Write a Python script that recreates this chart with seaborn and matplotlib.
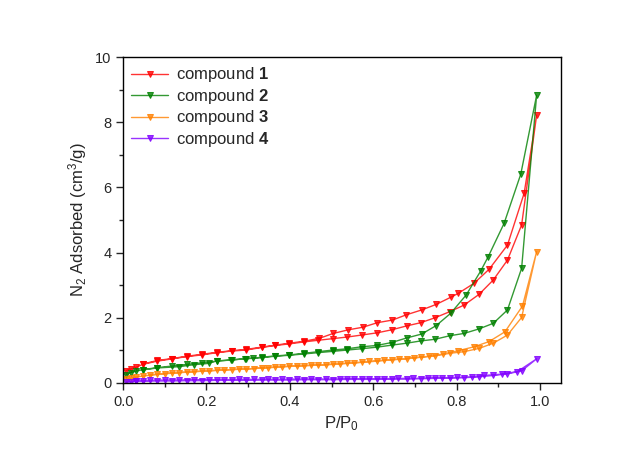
import numpy as np
import pandas as pd
import matplotlib
matplotlib.use("Agg")
import matplotlib.pyplot as plt
from matplotlib.ticker import MultipleLocator
import seaborn as sns

# relative pressure grid used for the adsorption branches
p_ads = [0.007, 0.018, 0.031, 0.047, 0.082, 0.118, 0.153, 0.189, 0.225, 0.261,
         0.295, 0.333, 0.365, 0.399, 0.434, 0.468, 0.503, 0.538, 0.572, 0.610,
         0.644, 0.680, 0.714, 0.748, 0.784, 0.818, 0.854, 0.888, 0.922, 0.956, 0.992]

# compound 1
ads1 = [0.38, 0.43, 0.48, 0.57, 0.67, 0.74, 0.81, 0.86, 0.93, 0.98,
        1.01, 1.09, 1.15, 1.20, 1.26, 1.31, 1.36, 1.41, 1.47, 1.54,
        1.63, 1.75, 1.85, 2.00, 2.19, 2.39, 2.72, 3.16, 3.77, 4.85, 8.22]
p_des1 = [0.962, 0.922, 0.878, 0.842, 0.804, 0.786, 0.751, 0.716, 0.679, 0.646,
          0.610, 0.575, 0.540, 0.504, 0.471, 0.434, 0.399, 0.365, 0.333, 0.295,
          0.261, 0.225, 0.189, 0.153, 0.118, 0.082, 0.047]
des1 = [5.82, 4.23, 3.49, 3.06, 2.75, 2.63, 2.41, 2.24, 2.09, 1.93,
        1.85, 1.71, 1.63, 1.52, 1.37, 1.28, 1.22, 1.16, 1.10, 1.03,
        0.99, 0.94, 0.88, 0.82, 0.75, 0.69, 0.58]

# compound 2
ads2 = [0.25, 0.32, 0.36, 0.41, 0.47, 0.52, 0.57, 0.62, 0.67, 0.71,
        0.74, 0.78, 0.82, 0.85, 0.89, 0.93, 0.97, 1.01, 1.05, 1.10,
        1.16, 1.22, 1.29, 1.34, 1.45, 1.52, 1.66, 1.83, 2.24, 3.52, 8.83]
p_des2 = [0.954, 0.914, 0.876, 0.858, 0.823, 0.786, 0.751, 0.716, 0.680, 0.644,
          0.608, 0.572, 0.538, 0.503, 0.468, 0.434, 0.399, 0.365, 0.333, 0.311,
          0.293, 0.259, 0.225, 0.205, 0.170, 0.135, 0.082, 0.047]
des2 = [6.41, 4.90, 3.88, 3.44, 2.70, 2.14, 1.76, 1.50, 1.38, 1.24,
        1.15, 1.11, 1.05, 1.01, 0.96, 0.91, 0.86, 0.83, 0.79, 0.76,
        0.75, 0.70, 0.68, 0.60, 0.56, 0.50, 0.46, 0.40]

# compound 3
ads3 = [0.11, 0.15, 0.18, 0.21, 0.26, 0.30, 0.33, 0.36, 0.39, 0.41,
        0.43, 0.46, 0.48, 0.51, 0.53, 0.55, 0.57, 0.60, 0.63, 0.67,
        0.71, 0.74, 0.79, 0.83, 0.91, 0.96, 1.06, 1.22, 1.47, 2.01, 4.03]
p_des3 = [0.958, 0.916, 0.878, 0.842, 0.804, 0.768, 0.734, 0.698, 0.662, 0.626,
          0.590, 0.555, 0.520, 0.486, 0.451, 0.416, 0.382, 0.348, 0.313, 0.278,
          0.243, 0.207, 0.171, 0.135, 0.100, 0.064]
des3 = [2.36, 1.57, 1.27, 1.11, 0.99, 0.89, 0.82, 0.77, 0.73, 0.70,
        0.66, 0.62, 0.59, 0.56, 0.54, 0.52, 0.50, 0.47, 0.44, 0.42,
        0.40, 0.37, 0.35, 0.32, 0.29, 0.25]

# compound 4
ads4 = [0.03, 0.04, 0.05, 0.05, 0.06, 0.06, 0.07, 0.07, 0.08, 0.08,
        0.08, 0.09, 0.09, 0.09, 0.10, 0.10, 0.10, 0.11, 0.11, 0.11,
        0.12, 0.12, 0.13, 0.14, 0.15, 0.16, 0.19, 0.23, 0.28, 0.37, 0.74]
p_des4 = [0.946, 0.908, 0.866, 0.838, 0.802, 0.766, 0.732, 0.696, 0.660, 0.626,
          0.590, 0.555, 0.520, 0.486, 0.451, 0.416, 0.382, 0.348, 0.313, 0.278,
          0.243, 0.207, 0.171, 0.135, 0.100, 0.064, 0.030]
des4 = [0.35, 0.27, 0.23, 0.18, 0.17, 0.16, 0.15, 0.14, 0.14, 0.13,
        0.13, 0.13, 0.12, 0.12, 0.12, 0.12, 0.11, 0.11, 0.11, 0.11,
        0.10, 0.10, 0.10, 0.09, 0.09, 0.08, 0.07]

labels = [r'compound $\mathbf{1}$', r'compound $\mathbf{2}$',
          r'compound $\mathbf{3}$', r'compound $\mathbf{4}$']
colors = ['#FF0000', '#008000', '#FF8000', '#8000FF']

sns.set_style('ticks')
plt.rcParams['font.family'] = ['Liberation Sans', 'DejaVu Sans']
plt.rcParams['mathtext.fontset'] = 'custom'
plt.rcParams['mathtext.rm'] = 'Liberation Sans'
plt.rcParams['mathtext.it'] = 'Liberation Sans:italic'
plt.rcParams['mathtext.bf'] = 'Liberation Sans:bold'

fig = plt.figure(figsize=(6.38, 4.5), dpi=100)
ax = fig.add_axes([0.193, 0.149, 0.686, 0.724])

series = [(ads1, p_des1, des1), (ads2, p_des2, des2),
          (ads3, p_des3, des3), (ads4, p_des4, des4)]
for (ads, pd_, des), lab, col in zip(series, labels, colors):
    df = pd.DataFrame({'p': p_ads + pd_, 'v': ads + des})
    sns.lineplot(data=df, x='p', y='v', sort=False, estimator=None, ax=ax,
                 color=col, lw=1.0, alpha=0.8, marker='v', markersize=4.5,
                 markeredgecolor=col, markerfacecolor=col, label=lab)

ax.set_xlim(0, 1.05)
ax.set_ylim(0, 10)
ax.xaxis.set_major_locator(MultipleLocator(0.2))
ax.xaxis.set_minor_locator(MultipleLocator(0.1))
ax.yaxis.set_major_locator(MultipleLocator(2))
ax.yaxis.set_minor_locator(MultipleLocator(1))
ax.tick_params(which='major', direction='out', length=5, width=1, labelsize=10.5)
ax.tick_params(which='minor', direction='out', length=3, width=1)
for s in ax.spines.values():
    s.set_linewidth(1)
    s.set_color('black')

ax.set_xlabel(r'P/P$_0$', fontsize=12)
ax.set_ylabel(r'N$_2$ Adsorbed (cm$^3$/g)', fontsize=12)

ax.legend(loc='upper left', frameon=False, fontsize=12, handlelength=2.2,
          handletextpad=0.45, labelspacing=0.15, borderpad=0.2,
          borderaxespad=0.3)

fig.savefig('out.png', dpi=100)
